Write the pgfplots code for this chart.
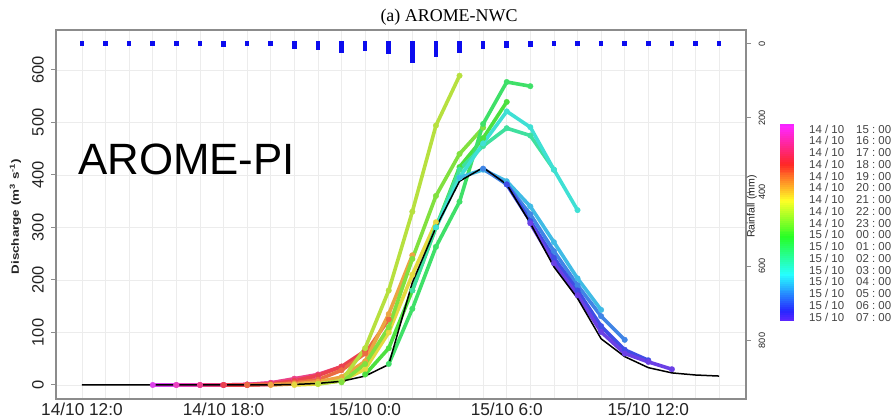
\documentclass[border=0pt]{standalone}
\usepackage{fontspec}
\setmainfont{Liberation Sans}
\newfontfamily\timesfont{Liberation Serif}
\usepackage[rgb]{xcolor}
\usepackage{pgfplots}
\pgfplotsset{compat=1.18}

\definecolor{gridgray}{RGB}{236,236,236}
\definecolor{framegray}{RGB}{140,140,140}
\definecolor{raincol}{RGB}{12,12,238}
\definecolor{txt}{RGB}{35,35,35}

% one colour per forecast run, 14/10 15:00 ... 15/10 07:00
\definecolor{f0}{hsb}{0.820,0.72,0.92}
\definecolor{f1}{hsb}{0.876,0.72,0.92}
\definecolor{f2}{hsb}{0.931,0.72,0.92}
\definecolor{f3}{hsb}{0.987,0.72,0.92}
\definecolor{f4}{hsb}{0.042,0.72,0.92}
\definecolor{f5}{hsb}{0.098,0.72,0.92}
\definecolor{f6}{hsb}{0.154,0.72,0.90}
\definecolor{f7}{hsb}{0.209,0.72,0.88}
\definecolor{f8}{hsb}{0.265,0.72,0.88}
\definecolor{f9}{hsb}{0.320,0.72,0.88}
\definecolor{f10}{hsb}{0.376,0.72,0.88}
\definecolor{f11}{hsb}{0.432,0.72,0.88}
\definecolor{f12}{hsb}{0.487,0.72,0.88}
\definecolor{f13}{hsb}{0.543,0.72,0.90}
\definecolor{f14}{hsb}{0.598,0.72,0.90}
\definecolor{f15}{hsb}{0.654,0.72,0.90}
\definecolor{f16}{hsb}{0.710,0.72,0.90}

\pgfplotsset{
  fc/.style={color=#1, line width=3.6bp, mark=*, mark size=2.8bp,
             mark options={solid, fill=#1, draw=#1, line width=0.3bp}},
}

\begin{document}
\begin{tikzpicture}[x=1bp,y=1bp]
\path[use as bounding box] (0,0) rectangle (895,418);

% discharge axis (hours from 14/10 12:00)
\begin{axis}[
  at={(56bp,19bp)}, anchor=south west,
  scale only axis, width=690bp, height=369bp,
  xmin=-1.1, xmax=28.14, ymin=-26.7, ymax=676,
  /pgf/number format/assume math mode=true,
  xtick={0,...,27},
  xticklabels={14/10 12:0,,,,,,14/10 18:0,,,,,,15/10 0:0,,,,,,15/10 6:0,,,,,,15/10 12:0,,,},
  ytick={0,100,...,600},
  ytick pos=left,
  grid=major,
  major grid style={gridgray, line width=0.8bp},
  axis line style={framegray, line width=1.2bp},
  xtick style={draw=none},
  ytick style={framegray, line width=1bp},
  tick align=outside, major tick length=5bp,
  x tick label style={font=\fontsize{17.3}{17.3}\selectfont, text=txt, inner sep=0pt, anchor=north},
  xticklabel shift=-1.3bp,
  y tick label style={font=\fontsize{16.5}{16.5}\selectfont, rotate=90, anchor=south, inner sep=0pt, text=txt},
  yticklabel shift=7bp,
]
\addplot[fc=f0] coordinates {(3,0)(4,0)(5,0)(6,0)(7,0)(8,1)(9,3)};
\addplot[fc=f1] coordinates {(4,0)(5,0)(6,0)(7,1)(8,4)(9,10)(10,14)};
\addplot[fc=f2] coordinates {(5,0)(6,0)(7,1)(8,4)(9,12)(10,20)(11,35)};
\addplot[fc=f3] coordinates {(6,0)(7,0)(8,2)(9,8)(10,18)(11,35)(12,65)};
\addplot[fc=f4] coordinates {(7,0)(8,1)(9,4)(10,10)(11,28)(12,60)(13,125)};
\addplot[fc=f5] coordinates {(8,0)(9,2)(10,6)(11,15)(12,45)(13,135)(14,247)};
\addplot[fc=f6] coordinates {(9,0)(10,2)(11,8)(12,30)(13,100)(14,210)(15,310)};
\addplot[fc=f7] coordinates {(10,2)(11,8)(12,70)(13,180)(14,330)(15,494)(16,589)};
\addplot[fc=f8] coordinates {(11,5)(12,40)(13,110)(14,240)(15,360)(16,440)(17,490)};
\addplot[fc=f9] coordinates {(12,20)(13,70)(14,180)(15,300)(16,415)(17,470)(18,539)};
\addplot[fc=f10] coordinates {(13,40)(14,145)(15,263)(16,349)(17,497)(18,577)(19,569)};
\addplot[fc=f11] coordinates {(14,180)(15,300)(16,410)(17,455)(18,489)(19,475)(20,410)};
\addplot[fc=f12] coordinates {(15,300)(16,395)(17,460)(18,521)(19,491)(20,410)(21,333)};
\addplot[fc=f13] coordinates {(16,395)(17,410)(18,388)(19,340)(20,272)(21,203)(22,143)};
\addplot[fc=f14] coordinates {(17,412)(18,382)(19,325)(20,255)(21,190)(22,131)(23,86)};
\addplot[fc=f15] coordinates {(18,382)(19,312)(20,242)(21,180)(22,112)(23,67)(24,47)};
\addplot[fc=f16] coordinates {(19,308)(20,232)(21,171)(22,101)(23,60)(24,44)(25,30)};
% observed discharge
\addplot[black, line width=1.5bp, no marks] coordinates {
  (0,0)(1,0)(2,0)(3,0)(4,0)(5,0)(6,0)(7,0)(8,0)(9,1)(10,3)(11,7)(12,17)(13,39)
  (14,195)(15,300)(16,388)(17,414)(18,382)(19,308)(20,225)(21,165)(22,88)(23,54)
  (24,33)(25,23)(26,19)(27,17)};
\end{axis}

% rainfall axis, reversed
\begin{axis}[
  at={(56bp,19bp)}, anchor=south west,
  scale only axis, width=690bp, height=369bp,
  xmin=-1.1, xmax=28.14, ymin=-36.9, ymax=957.7, y dir=reverse,
  /pgf/number format/assume math mode=true,
  axis x line=none, axis y line*=right,
  y axis line style={framegray, line width=1.2bp},
  ytick={0,200,...,800},
  ytick style={framegray, line width=1bp},
  tick align=outside, major tick length=5bp,
  y tick label style={font=\fontsize{9.2}{9.2}\selectfont, rotate=90, anchor=north, inner sep=0pt, text=txt},
  yticklabel shift=7.6bp,
]
\addplot[ycomb, raincol, line width=4.6bp, line cap=rect] coordinates {
  (0,0.3)(1,0.3)(2,0.3)(3,0.3)(4,0.3)(5,0.3)(6,1.8)(7,0.3)(8,0.5)(9,7.2)
  (10,11.7)(11,18)(12,14.4)(13,21.6)(14,45.8)(15,30.5)(16,18)(17,9)(18,4.5)(19,2.7)
  (20,0.3)(21,0.3)(22,0.3)(23,0.3)(24,0.3)(25,0.3)(26,0.3)(27,0.3)};
\end{axis}

% texts around the axes
\node[font=\timesfont\fontsize{18}{18}\selectfont, anchor=base] at (449,396.5) {(a) AROME-NWC};
\node[font=\fontsize{44}{44}\selectfont, anchor=base west, inner sep=0pt] at (78,243.7) {AROME-PI};
\node[font=\bfseries\fontsize{10.5}{10.5}\selectfont, rotate=90, text=txt] at (15.5,201.3)
  {\scalebox{1.28}[1]{Discharge (m\textsuperscript{3} s\textsuperscript{-1})}};
\node[font=\fontsize{10.6}{10.6}\selectfont, rotate=90, text=txt] at (752,211.5) {Rainfall (mm)};

% colour bar of forecast issue times
\foreach \k in {0,...,99}{
  \pgfmathsetmacro\hh{mod(-0.18+0.89*(\k+0.5)/100+1,1)}
  \definecolor{cb}{hsb}{\hh,0.85,1}
  \fill[cb] (780,{293.7-1.967*\k}) rectangle (794.3,{293.7-1.967*(\k+1)-0.3});
}
\foreach \t [count=\j from 0] in {15,16,17,18,19,20,21,22,23,00,01,02,03,04,05,06,07}{
  \ifnum\j<9 \def\dd{14}\else\def\dd{15}\fi
  \node[font=\fontsize{11.5}{11.5}\selectfont, text=txt!85, anchor=base west, inner sep=0pt]
    at (809,{285-11.75*\j}) {\dd\ /\ 10};
  \node[font=\fontsize{11.5}{11.5}\selectfont, text=txt!85, anchor=base west, inner sep=0pt]
    at (856,{285-11.75*\j}) {\t\ :\ 00};
}
\end{tikzpicture}
\end{document}
